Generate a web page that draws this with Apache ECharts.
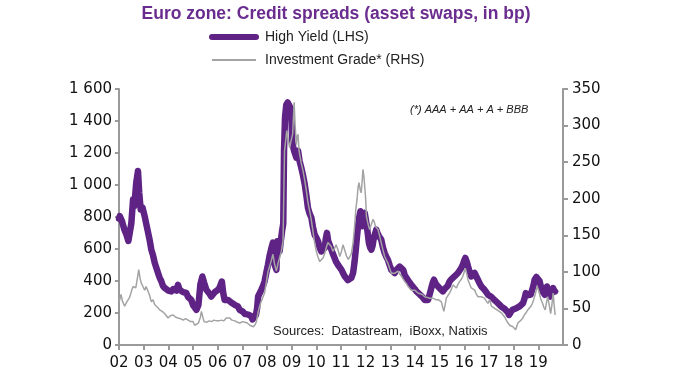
<!DOCTYPE html>
<html>
<head>
<meta charset="utf-8">
<script src="https://cdn.jsdelivr.net/npm/echarts@6/dist/echarts.min.js"></script>
<style>
html,body{margin:0;padding:0;background:#fff;}
#chart{width:680px;height:385px;}
</style>
</head>
<body>
<div id="chart"></div>
<script>
// ---- Data (decimal years) ----
const hyYears = [2002.00,2002.03,2002.12,2002.22,2002.30,2002.38,2002.43,2002.50,2002.57,2002.62,2002.70,2002.77,2002.82,2002.88,2002.95,2003.04,2003.10,2003.18,2003.25,2003.31,2003.38,2003.45,2003.52,2003.58,2003.65,2003.72,2003.78,2003.85,2003.92,2004.00,2004.05,2004.12,2004.20,2004.26,2004.33,2004.39,2004.46,2004.53,2004.60,2004.66,2004.73,2004.80,2004.87,2004.93,2005.00,2005.07,2005.14,2005.22,2005.30,2005.38,2005.45,2005.54,2005.60,2005.67,2005.74,2005.81,2005.88,2005.95,2006.01,2006.08,2006.17,2006.22,2006.28,2006.35,2006.42,2006.49,2006.55,2006.62,2006.69,2006.76,2006.82,2006.89,2006.96,2007.02,2007.10,2007.17,2007.24,2007.30,2007.36,2007.41,2007.48,2007.55,2007.60,2007.64,2007.70,2007.77,2007.84,2007.90,2007.97,2008.04,2008.10,2008.18,2008.24,2008.31,2008.38,2008.42,2008.48,2008.51,2008.56,2008.61,2008.66,2008.69,2008.73,2008.78,2008.84,2008.92,2008.96,2008.99,2009.02,2009.06,2009.10,2009.15,2009.19,2009.23,2009.26,2009.32,2009.39,2009.46,2009.53,2009.60,2009.66,2009.73,2009.80,2009.86,2009.93,2010.00,2010.07,2010.13,2010.20,2010.27,2010.34,2010.38,2010.43,2010.48,2010.54,2010.60,2010.67,2010.74,2010.80,2010.88,2010.95,2011.02,2011.08,2011.15,2011.22,2011.28,2011.35,2011.42,2011.49,2011.55,2011.60,2011.65,2011.69,2011.74,2011.79,2011.83,2011.87,2011.92,2011.96,2012.00,2012.05,2012.09,2012.13,2012.18,2012.23,2012.28,2012.32,2012.37,2012.43,2012.48,2012.54,2012.58,2012.63,2012.70,2012.77,2012.84,2012.90,2012.97,2013.04,2013.11,2013.18,2013.25,2013.31,2013.38,2013.45,2013.52,2013.58,2013.65,2013.72,2013.78,2013.85,2013.92,2013.99,2014.06,2014.13,2014.20,2014.26,2014.33,2014.39,2014.46,2014.53,2014.60,2014.66,2014.72,2014.77,2014.82,2014.87,2014.94,2015.00,2015.07,2015.13,2015.20,2015.27,2015.33,2015.40,2015.47,2015.54,2015.61,2015.68,2015.74,2015.81,2015.87,2015.94,2016.00,2016.04,2016.10,2016.15,2016.21,2016.28,2016.35,2016.42,2016.48,2016.55,2016.62,2016.69,2016.75,2016.82,2016.89,2016.96,2017.03,2017.10,2017.16,2017.23,2017.30,2017.37,2017.43,2017.50,2017.57,2017.64,2017.70,2017.76,2017.81,2017.88,2017.95,2018.03,2018.11,2018.17,2018.24,2018.31,2018.38,2018.44,2018.49,2018.55,2018.62,2018.69,2018.76,2018.80,2018.85,2018.92,2018.99,2019.05,2019.12,2019.19,2019.26,2019.31,2019.35,2019.42,2019.49,2019.55,2019.60,2019.64,2019.68];
const hyValues = [790,805,774,720,690,650,659,760,910,868,1016,1087,952,847,860,805,760,702,650,596,560,513,480,451,420,397,370,357,350,340,345,335,350,357,340,376,345,335,330,320,325,300,293,282,250,240,220,250,380,428,390,345,355,320,303,310,330,324,345,360,397,330,282,290,282,272,265,262,251,245,241,220,215,209,195,188,190,199,180,160,170,188,230,303,314,345,370,397,450,502,554,607,640,502,470,648,600,585,650,711,760,1213,1422,1500,1516,1516,1480,1422,1275,1240,1213,1190,1171,1200,1213,1150,1108,1060,1004,930,857,820,795,740,690,670,648,610,585,590,607,660,701,650,627,600,570,544,520,500,491,470,450,430,418,405,400,420,450,520,596,680,742,800,836,780,742,790,826,790,742,690,638,610,596,620,659,690,721,700,680,670,659,610,575,550,533,500,470,460,450,470,481,490,502,470,439,420,408,390,376,365,350,335,324,315,303,295,282,285,282,320,355,390,408,390,376,365,355,345,335,350,345,370,397,410,418,430,439,450,460,480,502,530,544,520,491,460,429,440,450,430,408,385,366,355,345,330,314,314,300,293,280,272,260,251,240,230,225,220,205,188,205,220,225,230,235,241,250,262,290,324,310,303,315,324,370,408,425,429,400,355,330,314,340,366,330,303,330,355,340,335];

const igYears = [2002.00,2002.03,2002.08,2002.14,2002.23,2002.30,2002.37,2002.43,2002.50,2002.57,2002.64,2002.68,2002.74,2002.80,2002.85,2002.90,2002.97,2003.04,2003.10,2003.18,2003.24,2003.31,2003.38,2003.45,2003.55,2003.65,2003.75,2003.85,2003.92,2003.99,2004.08,2004.20,2004.30,2004.39,2004.50,2004.60,2004.70,2004.80,2004.90,2005.00,2005.07,2005.14,2005.22,2005.30,2005.34,2005.40,2005.45,2005.55,2005.65,2005.75,2005.85,2005.95,2006.05,2006.15,2006.25,2006.35,2006.42,2006.49,2006.58,2006.70,2006.80,2006.90,2007.00,2007.10,2007.20,2007.30,2007.38,2007.45,2007.52,2007.57,2007.64,2007.70,2007.77,2007.84,2007.90,2007.97,2008.04,2008.10,2008.17,2008.24,2008.31,2008.38,2008.45,2008.51,2008.58,2008.65,2008.71,2008.76,2008.80,2008.86,2008.92,2008.98,2009.04,2009.07,2009.10,2009.14,2009.19,2009.22,2009.26,2009.30,2009.38,2009.46,2009.53,2009.60,2009.66,2009.73,2009.80,2009.86,2009.93,2010.00,2010.07,2010.14,2010.20,2010.27,2010.34,2010.40,2010.47,2010.54,2010.60,2010.67,2010.74,2010.80,2010.88,2010.95,2011.02,2011.08,2011.15,2011.22,2011.29,2011.35,2011.42,2011.49,2011.55,2011.60,2011.65,2011.69,2011.73,2011.78,2011.82,2011.86,2011.89,2011.93,2011.96,2012.00,2012.03,2012.10,2012.16,2012.23,2012.30,2012.35,2012.40,2012.45,2012.50,2012.56,2012.63,2012.70,2012.77,2012.84,2012.90,2012.97,2013.04,2013.11,2013.18,2013.25,2013.31,2013.38,2013.45,2013.52,2013.58,2013.65,2013.72,2013.78,2013.85,2013.92,2013.99,2014.06,2014.12,2014.20,2014.30,2014.39,2014.50,2014.60,2014.73,2014.84,2014.94,2015.00,2015.07,2015.12,2015.17,2015.22,2015.27,2015.34,2015.40,2015.47,2015.54,2015.61,2015.68,2015.74,2015.81,2015.88,2015.94,2016.00,2016.04,2016.10,2016.15,2016.22,2016.28,2016.35,2016.42,2016.48,2016.55,2016.62,2016.69,2016.75,2016.82,2016.89,2016.96,2017.03,2017.10,2017.17,2017.23,2017.30,2017.37,2017.43,2017.50,2017.57,2017.64,2017.70,2017.77,2017.84,2017.90,2017.97,2018.03,2018.08,2018.13,2018.17,2018.24,2018.30,2018.37,2018.43,2018.50,2018.57,2018.63,2018.70,2018.76,2018.81,2018.88,2018.95,2019.00,2019.04,2019.10,2019.17,2019.22,2019.28,2019.33,2019.38,2019.44,2019.50,2019.55,2019.60,2019.64,2019.68];
const igValues = [58,59,69,60,53,58,57,65,73,80,82,78,90,103,92,85,80,75,80,78,68,59,62,55,52,48,46,43,40,37,40,41,38,37,36,34,36,34,32,32,27,29,30,38,46,38,32,31,33,32,34,33,33,34,33,37,35,37,34,33,31,30,32,31,30,27,28,25,28,32,45,53,60,66,71,85,100,101,115,124,110,101,112,119,128,142,265,280,293,280,270,280,288,310,332,300,274,285,288,265,250,238,225,210,195,183,170,156,140,128,120,114,112,119,125,133,140,142,135,128,132,137,130,121,128,137,130,122,117,120,125,140,162,185,199,215,222,212,208,225,240,230,217,200,176,165,158,165,172,168,162,160,158,150,140,130,121,116,112,105,98,100,98,100,101,97,94,90,87,84,80,78,75,76,75,73,71,73,69,66,65,64,64,62,62,60,59,52,46,55,64,68,71,76,82,80,78,83,87,90,94,100,105,97,89,83,78,76,75,70,66,67,66,65,64,60,57,62,53,52,50,48,47,46,44,41,38,34,30,27,26,25,23,21,26,30,32,34,37,41,44,48,50,53,57,62,70,80,76,71,63,57,52,48,58,66,55,43,55,71,55,41];

const xTickYears = [2002,2003,2004,2005,2006,2007,2008,2009,2010,2011,2012,2013,2014,2015,2016,2017,2018,2019];
const seriesNames = ['High Yield (LHS)', 'Investment Grade* (RHS)'];
const titleText = 'Euro zone: Credit spreads (asset swaps, in bp)';
const noteText = '(*) AAA + AA + A + BBB';
const sourceText = 'Sources:  Datastream,  iBoxx, Natixis';

const PURPLE = '#5E2384';
const GREY = '#A3A3A3';
const AXIS = '#9A9A9A';

const hyData = hyYears.map((y, i) => [y, hyValues[i]]);
const igData = igYears.map((y, i) => [y, igValues[i]]);

const chart = echarts.init(document.getElementById('chart'), null, {renderer: 'canvas'});
chart.setOption({
  animation: false,
  backgroundColor: '#fff',
  title: {
    text: titleText,
    left: 331, top: 0, textAlign: 'center',
    textStyle: {fontFamily: 'Liberation Sans, Arial, sans-serif', fontSize: 17.5, fontWeight: 'bold', color: '#6A2C8E'}
  },
  legend: {
    orient: 'vertical',
    left: 204, top: 25,
    itemWidth: 44, itemHeight: 14, itemGap: 9,
    textStyle: {fontFamily: 'Liberation Sans, Arial, sans-serif', fontSize: 14, color: '#222', padding: [0, 0, 0, 4]},
    data: [
      {name: seriesNames[0], lineStyle: {width: 6}, itemStyle: {opacity: 0}},
      {name: seriesNames[1], lineStyle: {width: 2}, itemStyle: {opacity: 0}}
    ]
  },
  grid: {left: 119, right: 117, top: 89, bottom: 40, containLabel: false},
  xAxis: {
    type: 'value', min: 2002, max: 2020, interval: 1,
    axisLine: {lineStyle: {color: AXIS, width: 2}},
    axisTick: {length: 5, lineStyle: {color: AXIS, width: 2}},
    splitLine: {show: false},
    axisLabel: {
      margin: 11, color: '#111', fontFamily: 'DejaVu Sans, sans-serif', fontSize: 15,
      showMaxLabel: false,
      formatter: v => (xTickYears.indexOf(v) >= 0 ? String(v % 100).padStart(2, '0') : '')
    }
  },
  yAxis: [
    {
      type: 'value', min: 0, max: 1600, interval: 200, position: 'left',
      axisLine: {show: true, lineStyle: {color: AXIS, width: 2}},
      axisTick: {show: true, length: 4, lineStyle: {color: AXIS, width: 2}},
      splitLine: {show: false},
      axisLabel: {margin: 7, color: '#111', fontFamily: 'DejaVu Sans, sans-serif', fontSize: 15,
        formatter: v => v >= 1000 ? Math.floor(v / 1000) + ' ' + String(v % 1000).padStart(3, '0') : String(v)}
    },
    {
      type: 'value', min: 0, max: 350, interval: 50, position: 'right',
      axisLine: {show: true, lineStyle: {color: AXIS, width: 2}},
      axisTick: {show: true, length: 5, lineStyle: {color: AXIS, width: 2}},
      splitLine: {show: false},
      axisLabel: {margin: 9, color: '#111', fontFamily: 'DejaVu Sans, sans-serif', fontSize: 15}
    }
  ],
  graphic: [
    {type: 'text', left: 410, top: 104,
      style: {text: noteText, font: 'italic 11px Liberation Sans, Arial, sans-serif', fill: '#222'}},
    {type: 'text', left: 273, top: 325,
      style: {text: sourceText, font: '13px Liberation Sans, Arial, sans-serif', fill: '#222'}}
  ],
  series: [
    {name: seriesNames[0], type: 'line', yAxisIndex: 0, data: hyData, symbol: 'none',
      lineStyle: {color: PURPLE, width: 6.5, join: 'round', cap: 'round'}, itemStyle: {color: PURPLE}, z: 2},
    {name: seriesNames[1], type: 'line', yAxisIndex: 1, data: igData, symbol: 'none',
      lineStyle: {color: GREY, width: 1.5}, itemStyle: {color: GREY}, z: 3}
  ]
});
</script>
</body>
</html>
